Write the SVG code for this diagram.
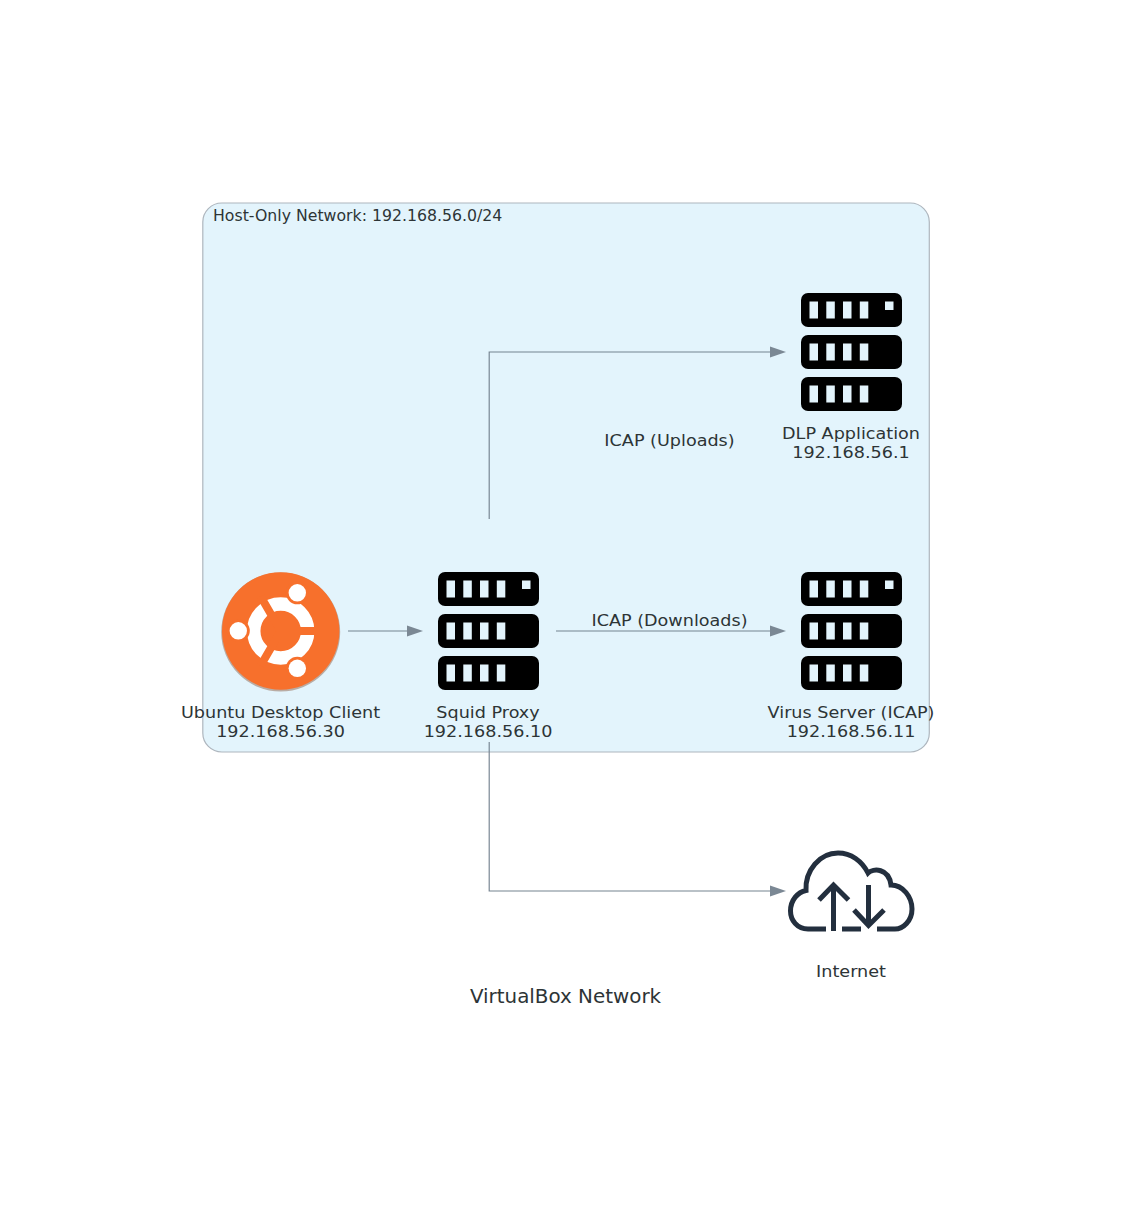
<svg xmlns="http://www.w3.org/2000/svg" width="1132" height="1207" viewBox="0 0 1132 1207">
<style>
text{font-family:"DejaVu Sans",sans-serif;fill:#2d3436;font-size:16.2px;text-anchor:middle}
.c{fill:none;stroke:#75838f;stroke-width:1.15}
.h{fill:#7b8894}
.hole{fill:#e3f4fc}
</style>
<defs>
<g id="server">
<rect x="0" y="0" width="101" height="34" rx="7" fill="#000"/>
<rect x="0" y="42" width="101" height="34" rx="7" fill="#000"/>
<rect x="0" y="84" width="101" height="34" rx="7" fill="#000"/>
<g class="hole">
<rect x="8.500" y="8.500" width="8.500" height="17"/><rect x="25.300" y="8.500" width="8.500" height="17"/><rect x="42" y="8.500" width="8.500" height="17"/><rect x="58.800" y="8.500" width="8.500" height="17"/><rect x="84" y="8.500" width="8.500" height="8.500"/>
<rect x="8.500" y="50.500" width="8.500" height="17"/><rect x="25.300" y="50.500" width="8.500" height="17"/><rect x="42" y="50.500" width="8.500" height="17"/><rect x="58.800" y="50.500" width="8.500" height="17"/>
<rect x="8.500" y="92.500" width="8.500" height="17"/><rect x="25.300" y="92.500" width="8.500" height="17"/><rect x="42" y="92.500" width="8.500" height="17"/><rect x="58.800" y="92.500" width="8.500" height="17"/>
</g>
</g>
</defs>
<rect width="1132" height="1207" fill="#fff"/>
<g id="cluster">
<rect x="202.800" y="203" width="726.500" height="549" rx="19" fill="#e3f4fc" stroke="#aeb6be" stroke-width="1.2"/>
<text transform="translate(213 221) scale(1.05 1)" style="text-anchor:start;font-size:15px">Host-Only Network: 192.168.56.0/24</text>
</g>
<g id="connectors">
<path class="c" d="M348 631H408"/><polygon class="h" points="423,631 407,625.500 407,636.500"/>
<path class="c" d="M556 631H771"/><polygon class="h" points="786,631 770,625.500 770,636.500"/>
<path class="c" d="M489.200 519V352H771"/><polygon class="h" points="786,352 770,346.500 770,357.500"/>
<path class="c" d="M489.200 742V891H771"/><polygon class="h" points="786,891 770,885.500 770,896.500"/>
<text transform="translate(669.500 446) scale(1.087 1)">ICAP (Uploads)</text>
<text transform="translate(669.500 626) scale(1.087 1)">ICAP (Downloads)</text>
</g>
<g id="ubuntu">
<circle cx="280.700" cy="632" r="59.500" fill="#b9aca4"/>
<circle cx="280.700" cy="631" r="58.700" fill="#f7702c"/>
<circle cx="280.700" cy="631" r="27" fill="none" stroke="#fff" stroke-width="13.500"/>
<path d="M280.700 631H320M280.700 631L260.700 596.400M280.700 631L260.700 665.600" stroke="#f7702c" stroke-width="8" fill="none"/>
<circle cx="297.300" cy="592.800" r="11.500" fill="#f7702c"/><circle cx="297.300" cy="668.300" r="11.500" fill="#f7702c"/><circle cx="238.300" cy="630.800" r="11.500" fill="#f7702c"/>
<circle cx="297.300" cy="592.800" r="8.700" fill="#fff"/><circle cx="297.300" cy="668.300" r="8.700" fill="#fff"/><circle cx="238.300" cy="630.800" r="8.700" fill="#fff"/>
<text transform="translate(280.500 718) scale(1.087 1)">Ubuntu Desktop Client</text>
<text transform="translate(280.500 737) scale(1.087 1)">192.168.56.30</text>
</g>
<g id="squid">
<use href="#server" x="438" y="572"/>
<text transform="translate(488 718) scale(1.087 1)">Squid Proxy</text>
<text transform="translate(488 737) scale(1.087 1)">192.168.56.10</text>
</g>
<g id="virus">
<use href="#server" x="801" y="572"/>
<text transform="translate(851 718) scale(1.087 1)">Virus Server (ICAP)</text>
<text transform="translate(851 737) scale(1.087 1)">192.168.56.11</text>
</g>
<g id="dlp">
<use href="#server" x="801" y="293"/>
<text transform="translate(851 439) scale(1.087 1)">DLP Application</text>
<text transform="translate(851 458) scale(1.087 1)">192.168.56.1</text>
</g>
<g id="internet">
<path d="M826 929H808C797 929 790.500 920 790.500 911C790.500 900 798 892 806 890.500C805 870 820 853 838 853C851 853 862 861 868 873C873 868 889 868 891 885C903 885 912 897 912 909C912 921 903 929 895 929H877M842 929H861M833.500 931V885M819 900L833.500 885L848.500 900M868.500 885V926M854 910L868.500 925.500L884 910" fill="none" stroke="#232f3e" stroke-width="5"/>
<text transform="translate(851 977) scale(1.087 1)">Internet</text>
</g>
<text id="title" transform="translate(565.500 1003) scale(1.05 1)" style="font-size:18.95px">VirtualBox Network</text>
</svg>
